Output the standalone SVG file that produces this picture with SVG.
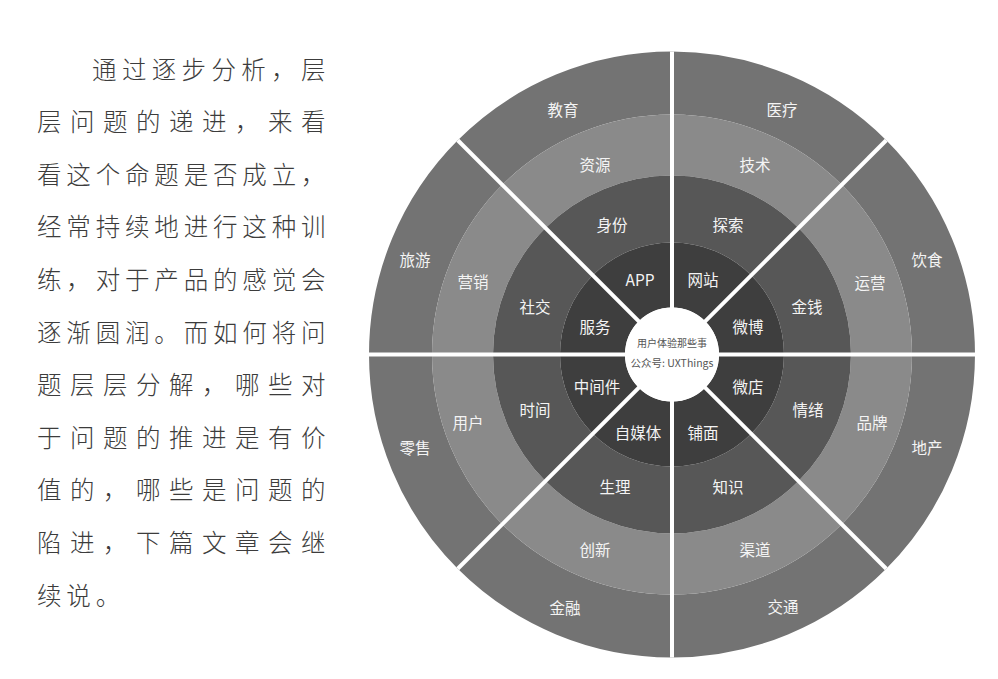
<svg xmlns="http://www.w3.org/2000/svg" xmlns:xlink="http://www.w3.org/1999/xlink" width="998" height="679" viewBox="0 0 998 679">
<style>
.r1{fill:#3e3e3e}
.r2{fill:#575757}
.r3{fill:#8a8a8a}
.r4{fill:#737373}
.lbl{font-family:"Noto Sans CJK SC","Noto Sans",sans-serif;font-size:15.5px;fill:#f4f4f4;text-anchor:middle}
.sep{stroke:#ffffff;stroke-width:4;fill:none}
.para{font-family:"Noto Sans CJK SC","Noto Sans",sans-serif;font-size:24.5px;fill:#3c3c3c;font-weight:300}
.ctr{font-family:"Noto Sans CJK SC","Noto Sans",sans-serif;font-size:10px;fill:#555555;text-anchor:middle}
</style>
<defs>
<path id="s1" d="M112,0 A112,112 0 0 0 79.2,-79.2 L33.23,-33.23 A47,47 0 0 1 47,0 Z"/>
<path id="s2" d="M179,0 A179,179 0 0 0 126.57,-126.57 L79.2,-79.2 A112,112 0 0 1 112,0 Z"/>
<path id="s3" d="M240,0 A240,240 0 0 0 169.71,-169.71 L126.57,-126.57 A179,179 0 0 1 179,0 Z"/>
<path id="s4" d="M303,0 A303,303 0 0 0 214.25,-214.25 L169.71,-169.71 A240,240 0 0 1 240,0 Z"/>
</defs>
<rect width="998" height="679" fill="#ffffff"/>

<g id="paragraph" class="para">
<text x="92 121.9 151.7 181.6 211.4 241.3 271.2 301" y="78.5">通过逐步分析，层</text>
<text x="37 70 103 136 169 202 235 268 301" y="131.1">层问题的递进，来看</text>
<text x="37 66.33 95.67 125 154.33 183.67 213 242.33 271.67 301" y="183.7">看这个命题是否成立，</text>
<text x="37 66.33 95.67 125 154.33 183.67 213 242.33 271.67 301" y="236.3">经常持续地进行这种训</text>
<text x="37 66.33 95.67 125 154.33 183.67 213 242.33 271.67 301" y="288.9">练，对于产品的感觉会</text>
<text x="37 66.33 95.67 125 154.33 183.67 213 242.33 271.67 301" y="341.5">逐渐圆润。而如何将问</text>
<text x="37 70 103 136 169 202 235 268 301" y="394.1">题层层分解，哪些对</text>
<text x="37 70 103 136 169 202 235 268 301" y="446.7">于问题的推进是有价</text>
<text x="37 70 103 136 169 202 235 268 301" y="499.3">值的，哪些是问题的</text>
<text x="37 70 103 136 169 202 235 268 301" y="551.9">陷进，下篇文章会继</text>
<text x="37 66.33 95.67" y="604.5">续说。</text>
</g>

<g id="wheel">
<!-- sector 0-45 -->
<g id="n-yinshi"><use href="#s4" class="r4" transform="translate(672 354.5)"/><text class="lbl" x="927" y="265.7">饮食</text></g>
<g id="n-yunying"><use href="#s3" class="r3" transform="translate(672 354.5)"/><text class="lbl" x="870" y="288.7">运营</text></g>
<g id="n-jinqian"><use href="#s2" class="r2" transform="translate(672 354.5)"/><text class="lbl" x="807" y="312.7">金钱</text></g>
<g id="n-weibo"><use href="#s1" class="r1" transform="translate(672 354.5)"/><text class="lbl" x="748" y="332.7">微博</text></g>
<!-- sector 45-90 -->
<g id="n-yiliao"><use href="#s4" class="r4" transform="translate(672 354.5) rotate(-45)"/><text class="lbl" x="782" y="115.7">医疗</text></g>
<g id="n-jishu"><use href="#s3" class="r3" transform="translate(672 354.5) rotate(-45)"/><text class="lbl" x="755" y="170.7">技术</text></g>
<g id="n-tansuo"><use href="#s2" class="r2" transform="translate(672 354.5) rotate(-45)"/><text class="lbl" x="728" y="230.7">探索</text></g>
<g id="n-wangzhan"><use href="#s1" class="r1" transform="translate(672 354.5) rotate(-45)"/><text class="lbl" x="703" y="285.7">网站</text></g>
<!-- sector 90-135 -->
<g id="n-jiaoyu"><use href="#s4" class="r4" transform="translate(672 354.5) rotate(-90)"/><text class="lbl" x="563" y="115.7">教育</text></g>
<g id="n-ziyuan"><use href="#s3" class="r3" transform="translate(672 354.5) rotate(-90)"/><text class="lbl" x="595" y="170.7">资源</text></g>
<g id="n-shenfen"><use href="#s2" class="r2" transform="translate(672 354.5) rotate(-90)"/><text class="lbl" x="612" y="230.7">身份</text></g>
<g id="n-app"><use href="#s1" class="r1" transform="translate(672 354.5) rotate(-90)"/><text class="lbl" x="640" y="285.7">APP</text></g>
<!-- sector 135-180 -->
<g id="n-lvyou"><use href="#s4" class="r4" transform="translate(672 354.5) rotate(-135)"/><text class="lbl" x="415" y="265.7">旅游</text></g>
<g id="n-yingxiao"><use href="#s3" class="r3" transform="translate(672 354.5) rotate(-135)"/><text class="lbl" x="473" y="287.7">营销</text></g>
<g id="n-shejiao"><use href="#s2" class="r2" transform="translate(672 354.5) rotate(-135)"/><text class="lbl" x="535" y="312.7">社交</text></g>
<g id="n-fuwu"><use href="#s1" class="r1" transform="translate(672 354.5) rotate(-135)"/><text class="lbl" x="595" y="332.7">服务</text></g>
<!-- sector 180-225 -->
<g id="n-lingshou"><use href="#s4" class="r4" transform="translate(672 354.5) rotate(-180)"/><text class="lbl" x="415" y="453.7">零售</text></g>
<g id="n-yonghu"><use href="#s3" class="r3" transform="translate(672 354.5) rotate(-180)"/><text class="lbl" x="468" y="428.7">用户</text></g>
<g id="n-shijian"><use href="#s2" class="r2" transform="translate(672 354.5) rotate(-180)"/><text class="lbl" x="535" y="415.7">时间</text></g>
<g id="n-zhongjianjian"><use href="#s1" class="r1" transform="translate(672 354.5) rotate(-180)"/><text class="lbl" x="597" y="392.7">中间件</text></g>
<!-- sector 225-270 -->
<g id="n-jinrong"><use href="#s4" class="r4" transform="translate(672 354.5) rotate(-225)"/><text class="lbl" x="565" y="613.7">金融</text></g>
<g id="n-chuangxin"><use href="#s3" class="r3" transform="translate(672 354.5) rotate(-225)"/><text class="lbl" x="595" y="555.7">创新</text></g>
<g id="n-shengli"><use href="#s2" class="r2" transform="translate(672 354.5) rotate(-225)"/><text class="lbl" x="615" y="492.7">生理</text></g>
<g id="n-zimeiti"><use href="#s1" class="r1" transform="translate(672 354.5) rotate(-225)"/><text class="lbl" x="638" y="438.7">自媒体</text></g>
<!-- sector 270-315 -->
<g id="n-jiaotong"><use href="#s4" class="r4" transform="translate(672 354.5) rotate(-270)"/><text class="lbl" x="783" y="612.7">交通</text></g>
<g id="n-qudao"><use href="#s3" class="r3" transform="translate(672 354.5) rotate(-270)"/><text class="lbl" x="755" y="555.7">渠道</text></g>
<g id="n-zhishi"><use href="#s2" class="r2" transform="translate(672 354.5) rotate(-270)"/><text class="lbl" x="728" y="492.7">知识</text></g>
<g id="n-pumian"><use href="#s1" class="r1" transform="translate(672 354.5) rotate(-270)"/><text class="lbl" x="703" y="438.7">铺面</text></g>
<!-- sector 315-360 -->
<g id="n-dichan"><use href="#s4" class="r4" transform="translate(672 354.5) rotate(-315)"/><text class="lbl" x="927" y="453.7">地产</text></g>
<g id="n-pinpai"><use href="#s3" class="r3" transform="translate(672 354.5) rotate(-315)"/><text class="lbl" x="872" y="428.7">品牌</text></g>
<g id="n-qingxu"><use href="#s2" class="r2" transform="translate(672 354.5) rotate(-315)"/><text class="lbl" x="808" y="415.7">情绪</text></g>
<g id="n-weidian"><use href="#s1" class="r1" transform="translate(672 354.5) rotate(-315)"/><text class="lbl" x="748" y="392.7">微店</text></g>
</g>

<g id="separators" class="sep">
<line x1="369" y1="354.5" x2="975" y2="354.5"/>
<line x1="672" y1="51.5" x2="672" y2="657.5"/>
<line x1="457.75" y1="140.25" x2="886.25" y2="568.75"/>
<line x1="886.25" y1="140.25" x2="457.75" y2="568.75"/>
</g>

<g id="center">
<circle cx="672" cy="354.5" r="47" fill="#ffffff"/>
<text class="ctr" x="672" y="347">用户体验那些事</text>
<text class="ctr" x="672" y="367" style="font-size:10.5px">公众号: UXThings</text>
</g>
</svg>
